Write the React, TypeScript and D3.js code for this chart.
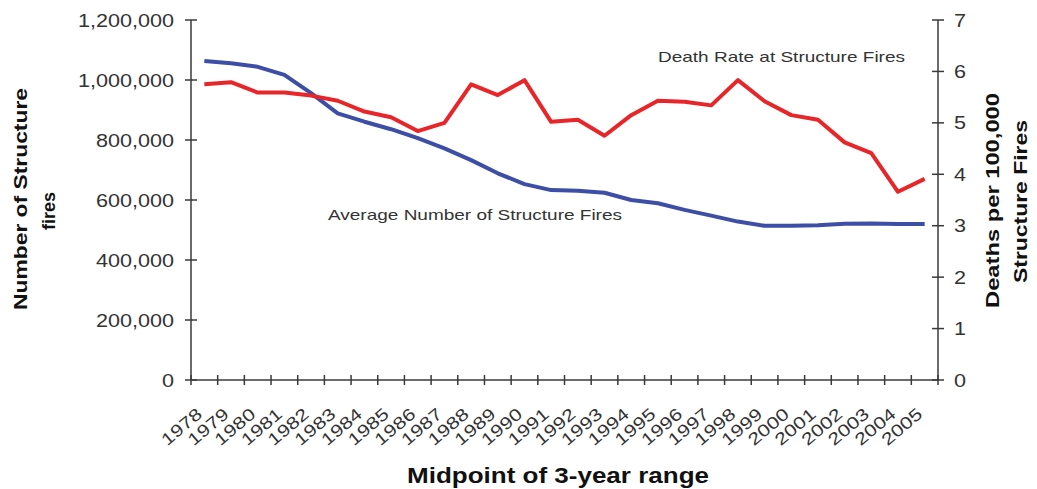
import * as d3 from 'd3';
import React, { useMemo } from 'react';

// midpoint years of each 3-year range
const YEARS = [
    1978, 1979, 1980, 1981, 1982, 1983, 1984, 1985, 1986, 1987, 1988, 1989, 1990, 1991,
    1992, 1993, 1994, 1995, 1996, 1997, 1998, 1999, 2000, 2001, 2002, 2003, 2004, 2005,
];

// average number of structure fires (left axis)
const FIRES = [
    1063000, 1056000, 1044000, 1017000, 956000, 889000, 861000, 836000, 806000, 772000,
    733000, 689000, 653000, 633000, 631000, 624000, 600000, 589000, 567000, 548000,
    528000, 514000, 514000, 516000, 521000, 522000, 520000, 520000,
];

// deaths per 100,000 structure fires (right axis)
const DEATH_RATE = [
    5.75, 5.79, 5.59, 5.59, 5.53, 5.43, 5.22, 5.11, 4.84, 5.0, 5.75, 5.54, 5.83, 5.02,
    5.06, 4.75, 5.15, 5.43, 5.41, 5.34, 5.83, 5.42, 5.15, 5.06, 4.62, 4.41, 3.66, 3.91,
];

const LEFT_TICKS = [0, 200000, 400000, 600000, 800000, 1000000, 1200000];
const RIGHT_TICKS = [0, 1, 2, 3, 4, 5, 6, 7];

const W = 1037;
const H = 489;
const FONT = 'Liberation Sans, Arial, sans-serif';
const AXIS = '#3a3a3a';
const TXT = '#333';

export default function App() {
    const left = 191;
    const right = 938;
    const top = 20;
    const bottom = 380;

    const x = useMemo(() => d3.scaleBand<number>().domain(YEARS).range([left, right]), []);
    const yL = useMemo(() => d3.scaleLinear().domain([0, 1200000]).range([bottom, top]), []);
    const yR = useMemo(() => d3.scaleLinear().domain([0, 7]).range([bottom, top]), []);

    const cx = (yr: number) => (x(yr) ?? 0) + x.bandwidth() / 2;

    const firesLine = d3
        .line<number>()
        .x((_, i) => cx(YEARS[i]))
        .y((d) => yL(d))(FIRES);

    const rateLine = d3
        .line<number>()
        .x((_, i) => cx(YEARS[i]))
        .y((d) => yR(d))(DEATH_RATE);

    const fmt = d3.format(',');
    const bandEdges = d3.range(YEARS.length + 1).map((i) => left + i * x.step());

    return (
        <svg
            width={W}
            height={H}
            style={{ position: 'absolute', left: 0, top: 0, background: '#fff' }}
            fontFamily={FONT}
        >
            {/* axes */}
            <line x1={left} x2={left} y1={top} y2={bottom} stroke={AXIS} strokeWidth={1.5} />
            <line x1={right} x2={right} y1={top} y2={bottom} stroke={AXIS} strokeWidth={1.5} />
            <line x1={left} x2={right} y1={bottom} y2={bottom} stroke={AXIS} strokeWidth={1.5} />

            {LEFT_TICKS.map((t) => (
                <g key={`l${t}`}>
                    <line x1={left - 6} x2={left + 6} y1={yL(t)} y2={yL(t)} stroke={AXIS} strokeWidth={1.5} />
                    <text
                        transform={`translate(${left - 17},${yL(t) + 6.5}) scale(1.2,1)`}
                        textAnchor="end"
                        fontSize={18}
                        fill={TXT}
                    >
                        {fmt(t)}
                    </text>
                </g>
            ))}

            {RIGHT_TICKS.map((t) => (
                <g key={`r${t}`}>
                    <line x1={right - 6} x2={right + 6} y1={yR(t)} y2={yR(t)} stroke={AXIS} strokeWidth={1.5} />
                    <text
                        transform={`translate(${right + 16},${yR(t) + 6.5}) scale(1.2,1)`}
                        textAnchor="start"
                        fontSize={18}
                        fill={TXT}
                    >
                        {t}
                    </text>
                </g>
            ))}

            {bandEdges.map((bx, i) => (
                <line key={`b${i}`} x1={bx} x2={bx} y1={bottom - 5} y2={bottom + 5} stroke={AXIS} strokeWidth={1.5} />
            ))}

            {YEARS.map((yr) => (
                <text
                    key={`y${yr}`}
                    transform={`translate(${cx(yr) - 1},${bottom + 36}) rotate(-40) scale(1.25,1)`}
                    textAnchor="end"
                    fontSize={17}
                    fill={TXT}
                >
                    {yr}
                </text>
            ))}

            {/* series */}
            <path d={firesLine ?? ''} fill="none" stroke="#3d4ea6" strokeWidth={4} strokeLinejoin="round" />
            <path d={rateLine ?? ''} fill="none" stroke="#e8262a" strokeWidth={4} strokeLinejoin="round" />

            {/* annotations */}
            <text x={658} y={62} fontSize={15} fill={TXT} textLength={247} lengthAdjust="spacingAndGlyphs">
                Death Rate at Structure Fires
            </text>
            <text x={328} y={220} fontSize={15} fill={TXT} textLength={294} lengthAdjust="spacingAndGlyphs">
                Average Number of Structure Fires
            </text>

            {/* axis titles */}
            <text
                x={407}
                y={483}
                fontSize={22}
                fontWeight={700}
                fill="#111"
                textLength={302}
                lengthAdjust="spacingAndGlyphs"
            >
                Midpoint of 3-year range
            </text>

            <text
                transform="translate(27,310) rotate(-90)"
                fontSize={18.5}
                fontWeight={700}
                fill="#111"
                textLength={222}
                lengthAdjust="spacingAndGlyphs"
            >
                Number of Structure
            </text>
            <text
                transform="translate(55,230) rotate(-90)"
                fontSize={18.5}
                fontWeight={700}
                fill="#111"
                textLength={38}
                lengthAdjust="spacingAndGlyphs"
            >
                fires
            </text>

            <text
                transform="translate(999,308) rotate(-90)"
                fontSize={18.5}
                fontWeight={700}
                fill="#111"
                textLength={215}
                lengthAdjust="spacingAndGlyphs"
            >
                Deaths per 100,000
            </text>
            <text
                transform="translate(1027,283) rotate(-90)"
                fontSize={18.5}
                fontWeight={700}
                fill="#111"
                textLength={163}
                lengthAdjust="spacingAndGlyphs"
            >
                Structure Fires
            </text>
        </svg>
    );
}
